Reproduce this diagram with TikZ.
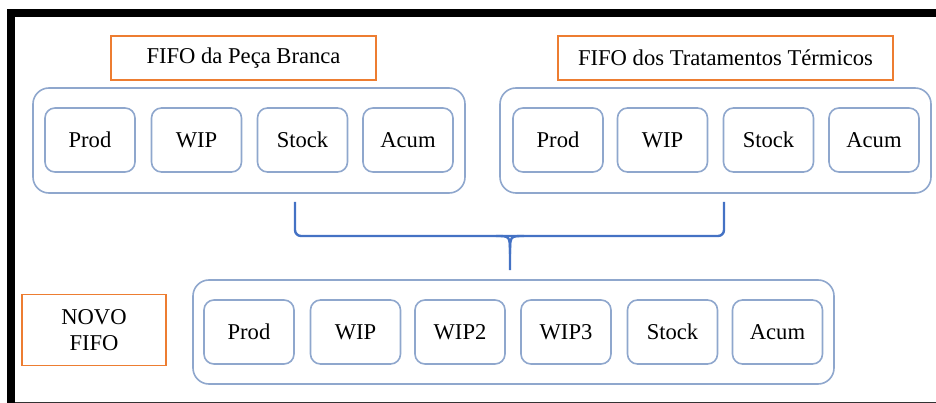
\documentclass[tikz,border=0pt]{standalone}
\usepackage{fontspec}
\setmainfont{Liberation Serif}
\definecolor{laranja}{RGB}{237,125,49}
\definecolor{azulcx}{RGB}{143,167,205}
\definecolor{azulch}{RGB}{68,114,196}
\tikzset{
  fifo/.style={draw=laranja,line width=1.3pt,inner sep=0pt,align=center,font=\fontsize{22.6}{26}\selectfont},
  grupo/.style={draw=azulcx,line width=1.6pt,rounded corners=16pt,inner sep=0pt,minimum height=105pt},
  etapa/.style={draw=azulcx,line width=1.6pt,rounded corners=10pt,minimum width=90pt,minimum height=64pt,inner sep=0pt,font=\fontsize{22.6}{26}\selectfont},
  chave/.style={draw=azulch,line width=2.4pt}
}
\begin{document}
\begin{tikzpicture}[x=1pt,y=-1pt]
    \useasboundingbox(0,0)rectangle(936,403);
    % moldura
    \draw[line width=8pt](11,403)--(11,13)--(936,13);
    \draw[line width=1pt,black!80](15,402)--(936,402);
    % titulos
    \node[fifo,minimum width=265pt,minimum height=44pt](tituloPB)at(243.5,58){FIFO da Peça Branca};
    \node[fifo,minimum width=335pt,minimum height=44pt](tituloTT)at(725.5,58){FIFO dos Tratamentos Térmicos};
    \node[fifo,minimum width=144pt,minimum height=71pt](tituloNovo)at(94,330){NOVO\\FIFO};
    % FIFO da peca branca
    \node[grupo,minimum width=432pt](grupoPB)at(249,140.5){};
    \node[etapa](pbProd)at(90,140){Prod};
    \node[etapa](pbWIP)at(196.5,140){WIP};
    \node[etapa](pbStock)at(302.5,140){Stock};
    \node[etapa](pbAcum)at(408,140){Acum};
    % FIFO dos tratamentos termicos
    \node[grupo,minimum width=431pt](grupoTT)at(715.5,140.5){};
    \node[etapa](ttProd)at(558,140){Prod};
    \node[etapa](ttWIP)at(662.5,140){WIP};
    \node[etapa](ttStock)at(768.5,140){Stock};
    \node[etapa](ttAcum)at(874,140){Acum};
    % novo FIFO
    \node[grupo,minimum width=641pt,minimum height=104pt](grupoNovo)at(513.5,332){};
    \node[etapa](novoProd)at(249,332){Prod};
    \node[etapa](novoWIP)at(355.5,332){WIP};
    \node[etapa](novoWIP2)at(460,332){WIP2};
    \node[etapa](novoWIP3)at(566,332){WIP3};
    \node[etapa](novoStock)at(672.5,332){Stock};
    \node[etapa](novoAcum)at(777.5,332){Acum};
    % chaveta
    \coordinate(chE)at(295,202);
    \coordinate(chD)at(724,202);
    \coordinate(chP)at(510,270);
    \draw[chave,rounded corners=6pt](chE)--(chE|-0,236)--(chD|-0,236)--(chD);
    \draw[chave](496,236)..controls(510,236)..(510,254)--(chP);
    \draw[chave](524,236)..controls(510,236)..(510,254);
\end{tikzpicture}
\end{document}
